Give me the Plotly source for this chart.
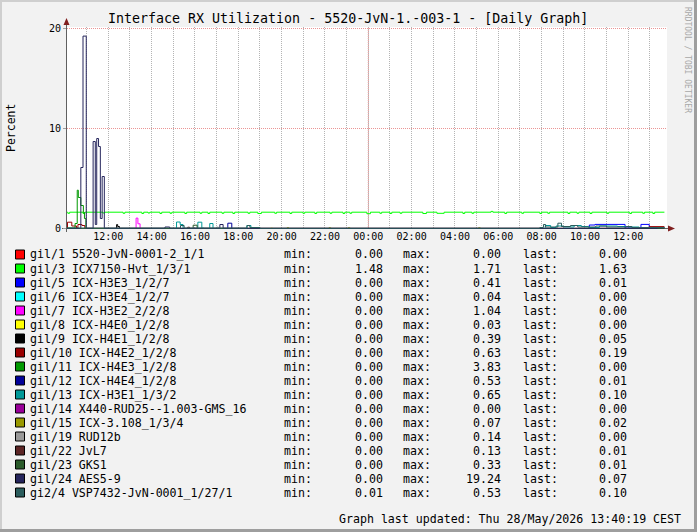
import plotly.graph_objects as go

# ---------------- data ----------------
labels = [
    "gil/1 5520-JvN-0001-2_1/1", "gil/3 ICX7150-Hvt_1/3/1", "gil/5 ICX-H3E3_1/2/7",
    "gil/6 ICX-H3E4_1/2/7", "gil/7 ICX-H3E2_2/2/8", "gil/8 ICX-H4E0_1/2/8",
    "gil/9 ICX-H4E1_1/2/8", "gil/10 ICX-H4E2_1/2/8", "gil/11 ICX-H4E3_1/2/8",
    "gil/12 ICX-H4E4_1/2/8", "gil/13 ICX-H3E1_1/3/2", "gil/14 X440-RUD25--1.003-GMS_16",
    "gil/15 ICX-3.108_1/3/4", "gil/19 RUD12b", "gil/22 JvL7", "gil/23 GKS1",
    "gil/24 AES5-9", "gi2/4 VSP7432-JvN-0001_1/27/1",
]
colors = [
    "#FF0000", "#00FF00", "#0000FF", "#00FFFF", "#FF00FF", "#FFFF00",
    "#000000", "#990000", "#009900", "#000099", "#009999", "#990099",
    "#999900", "#999999", "#5C2525", "#2A5A2A", "#25255C", "#2A5C5C",
]
mins = [0.00, 1.48, 0.00, 0.00, 0.00, 0.00, 0.00, 0.00, 0.00, 0.00, 0.00, 0.00, 0.00, 0.00, 0.00, 0.00, 0.00, 0.01]
maxs = [0.00, 1.71, 0.41, 0.04, 1.04, 0.03, 0.39, 0.63, 3.83, 0.53, 0.65, 0.00, 0.07, 0.14, 0.13, 0.33, 19.24, 0.53]
lasts = [0.00, 1.63, 0.01, 0.00, 0.00, 0.00, 0.05, 0.19, 0.00, 0.01, 0.10, 0.00, 0.02, 0.00, 0.01, 0.01, 0.07, 0.10]

# step change points ("DD HH:MM" in May 2026) and values, per interface
t_gi1_1 = ["27 10:06", "28 13:40"]
v_gi1_1 = [0.0, 0.0]

t_gi1_3 = ["27 10:06", "27 10:08", "27 10:13", "27 10:50", "27 10:55", "27 11:45", "27 11:50",
           "27 12:41", "27 12:46", "27 13:33", "27 13:38", "27 13:50", "27 13:55", "27 14:23",
           "27 14:28", "27 14:51", "27 14:56", "27 15:32", "27 15:37", "27 16:14", "27 16:19",
           "27 16:36", "27 16:41", "27 17:15", "27 17:20", "27 17:45", "27 17:50", "27 18:27",
           "27 18:32", "27 18:54", "27 19:04", "27 19:41", "27 19:46", "27 20:23", "27 20:28",
           "27 20:59", "27 21:04", "27 21:32", "27 21:37", "27 22:14", "27 22:19", "27 22:50",
           "27 22:55", "27 23:09", "27 23:14", "27 23:56", "28 00:06", "28 00:32", "28 00:37",
           "28 01:00", "28 01:05", "28 01:28", "28 01:33", "28 02:31", "28 02:41", "28 03:10",
           "28 03:30", "28 04:22", "28 04:27", "28 04:47", "28 04:52", "28 05:40", "28 05:45",
           "28 06:18", "28 06:23", "28 07:05", "28 07:10", "28 07:55", "28 08:00", "28 08:17",
           "28 08:22", "28 09:13", "28 09:18", "28 09:38", "28 09:43", "28 10:14", "28 10:19",
           "28 11:01", "28 11:06", "28 12:04", "28 12:09", "28 12:40", "28 12:45", "28 13:08",
           "28 13:13", "28 13:40"]
v_gi1_3 = [1.63, 1.52, 1.63, 1.50, 1.63, 1.55, 1.63,
           1.52, 1.63, 1.50, 1.63, 1.55, 1.63, 1.50,
           1.63, 1.52, 1.63, 1.50, 1.63, 1.52, 1.63,
           1.50, 1.63, 1.52, 1.63, 1.50, 1.63, 1.52,
           1.63, 1.50, 1.63, 1.52, 1.63, 1.50, 1.63,
           1.52, 1.63, 1.50, 1.63, 1.52, 1.63, 1.50,
           1.63, 1.52, 1.63, 1.48, 1.63, 1.52, 1.63,
           1.50, 1.63, 1.52, 1.63, 1.50, 1.63, 1.52,
           1.63, 1.50, 1.63, 1.52, 1.63, 1.71, 1.63,
           1.50, 1.63, 1.52, 1.63, 1.50, 1.63, 1.52,
           1.63, 1.50, 1.63, 1.52, 1.63, 1.50, 1.63,
           1.52, 1.63, 1.50, 1.63, 1.52, 1.63, 1.50,
           1.63, 1.63]

t_gi1_5 = ["27 10:06", "28 10:12", "28 10:28", "28 11:51", "28 12:35", "28 12:58", "28 13:40"]
v_gi1_5 = [0.0, 0.35, 0.41, 0.05, 0.41, 0.01, 0.01]

t_gi1_6 = ["27 10:06", "27 16:20", "27 16:25", "28 13:40"]
v_gi1_6 = [0.0, 0.04, 0.0, 0.0]

t_gi1_7 = ["27 10:06", "27 13:17", "27 13:22", "27 13:28", "28 13:40"]
v_gi1_7 = [0.0, 1.04, 0.47, 0.0, 0.0]

t_gi1_8 = ["27 10:06", "27 19:30", "27 19:35", "28 13:40"]
v_gi1_8 = [0.0, 0.03, 0.0, 0.0]

t_gi1_9 = ["27 10:06", "27 12:23", "27 12:26", "27 12:31", "28 13:20", "28 13:40"]
v_gi1_9 = [0.0, 0.39, 0.2, 0.0, 0.05, 0.05]

t_gi1_10 = ["27 10:06", "27 10:07", "27 10:19", "27 10:32", "27 10:36", "27 10:47", "27 10:55",
            "28 12:58", "28 13:40"]
v_gi1_10 = [0.05, 0.63, 0.25, 0.05, 0.4, 0.3, 0.02, 0.19, 0.19]

t_gi1_11 = ["27 10:06", "27 10:28", "27 10:34", "27 10:37", "27 10:44", "27 10:51", "27 10:54",
            "27 10:58", "28 13:40"]
v_gi1_11 = [0.05, 0.5, 3.83, 3.1, 2.3, 1.6, 1.0, 0.0, 0.0]

t_gi1_12 = ["27 10:06", "27 17:31", "27 17:42", "28 13:30", "28 13:40"]
v_gi1_12 = [0.0, 0.53, 0.0, 0.01, 0.01]

t_gi1_13 = ["27 10:06", "27 15:09", "27 15:19", "27 15:27", "27 16:08", "27 16:19", "27 16:41",
            "27 16:50", "27 18:24", "27 18:35", "28 08:10", "28 08:25", "28 08:40", "28 09:00",
            "28 09:30", "28 09:50", "28 10:10", "28 10:40", "28 11:30", "28 12:00", "28 12:30",
            "28 13:00", "28 13:40"]
v_gi1_13 = [0.0, 0.65, 0.4, 0.0, 0.63, 0.0, 0.5,
            0.0, 0.3, 0.0, 0.3, 0.1, 0.25, 0.15,
            0.3, 0.2, 0.1, 0.25, 0.2, 0.15, 0.1,
            0.1, 0.1]

t_gi1_14 = ["27 10:06", "28 13:40"]
v_gi1_14 = [0.0, 0.0]

t_gi1_15 = ["27 10:06", "27 20:15", "27 20:20", "27 22:11", "27 22:16", "27 23:04", "27 23:09",
            "28 05:05", "28 05:10", "28 13:30", "28 13:40"]
v_gi1_15 = [0.0, 0.07, 0.0, 0.07, 0.0, 0.07, 0.0, 0.07, 0.0, 0.02, 0.02]

t_gi1_19 = ["27 10:06", "27 17:00", "27 17:05", "28 13:40"]
v_gi1_19 = [0.0, 0.14, 0.0, 0.0]

t_gi1_22 = ["27 10:06", "27 15:40", "27 15:45", "28 13:30", "28 13:40"]
v_gi1_22 = [0.0, 0.13, 0.0, 0.01, 0.01]

t_gi1_23 = ["27 10:06", "27 15:55", "27 16:06", "28 13:30", "28 13:40"]
v_gi1_23 = [0.0, 0.33, 0.0, 0.01, 0.01]

t_gi1_24 = ["27 10:06", "27 10:44", "27 10:50", "27 10:59", "27 11:18", "27 11:24", "27 11:28",
            "27 11:33", "27 11:38", "27 11:43", "27 11:49", "27 14:37", "27 14:50", "27 17:09",
            "27 17:18", "28 13:20", "28 13:40"]
v_gi1_24 = [0.02, 6.1, 19.24, 0.02, 8.7, 0.4, 9.0,
            8.2, 1.0, 5.2, 0.02, 0.15, 0.02, 0.4,
            0.02, 0.07, 0.07]

t_gi2_4 = ["27 10:06", "27 15:20", "27 15:30", "27 18:24", "27 18:32", "27 19:00", "28 07:55",
           "28 08:05", "28 08:11", "28 08:45", "28 08:55", "28 09:20", "28 09:40", "28 10:30",
           "28 11:00", "28 11:55", "28 12:10", "28 13:40"]
v_gi2_4 = [0.05, 0.3, 0.05, 0.3, 0.1, 0.03, 0.1,
           0.4, 0.15, 0.53, 0.2, 0.3, 0.15, 0.25,
           0.15, 0.2, 0.1, 0.1]

series_t = [t_gi1_1, t_gi1_3, t_gi1_5, t_gi1_6, t_gi1_7, t_gi1_8, t_gi1_9, t_gi1_10, t_gi1_11,
            t_gi1_12, t_gi1_13, t_gi1_14, t_gi1_15, t_gi1_19, t_gi1_22, t_gi1_23, t_gi1_24, t_gi2_4]
series_v = [v_gi1_1, v_gi1_3, v_gi1_5, v_gi1_6, v_gi1_7, v_gi1_8, v_gi1_9, v_gi1_10, v_gi1_11,
            v_gi1_12, v_gi1_13, v_gi1_14, v_gi1_15, v_gi1_19, v_gi1_22, v_gi1_23, v_gi1_24, v_gi2_4]

title = "Interface RX Utilization - 5520-JvN-1.-003-1 - [Daily Graph]"
footer = "Graph last updated: Thu 28/May/2026 13:40:19 CEST"

# ---------------- layout geometry ----------------
W, H = 697, 532
L, R = 67, 667
T, B = 27, 229
MONO = "DejaVu Sans Mono"


def px(x):
    return (x - L) / (R - L)


def py(y):
    return (B - y) / (B - T)


def ts(s):
    return "2026-05-" + s


fig = go.Figure()
for t, v, c in zip(series_t, series_v, colors):
    fig.add_trace(go.Scatter(x=[ts(s) for s in t], y=v, mode="lines",
                             line=dict(color=c, width=1, shape="hv"),
                             hoverinfo="skip", showlegend=False))

GRID = "#B4B4B4"
MGRID = "#EB9595"

shapes = []
# frame shading
shapes.append(dict(type="rect", xref="paper", yref="paper", x0=px(0), x1=px(2), y0=py(532), y1=py(0),
                   fillcolor="#CFCFCF", line_width=0, layer="below"))
shapes.append(dict(type="rect", xref="paper", yref="paper", x0=px(0), x1=px(697), y0=py(2), y1=py(0),
                   fillcolor="#CFCFCF", line_width=0, layer="below"))
shapes.append(dict(type="rect", xref="paper", yref="paper", x0=px(694), x1=px(697), y0=py(532), y1=py(0),
                   fillcolor="#9E9E9E", line_width=0, layer="below"))
shapes.append(dict(type="rect", xref="paper", yref="paper", x0=px(0), x1=px(697), y0=py(532), y1=py(529),
                   fillcolor="#9E9E9E", line_width=0, layer="below"))
# day-boundary major grid line
shapes.append(dict(type="line", xref="x", yref="paper", x0=ts("28 00:00"), x1=ts("28 00:00"),
                   y0=0, y1=1, line=dict(color=MGRID, width=1, dash="1px,1px"), layer="between"))
# axes
shapes.append(dict(type="line", xref="paper", yref="paper", x0=px(62), x1=px(669), y0=py(228.5), y1=py(228.5),
                   line=dict(color="#606060", width=1), layer="between"))
shapes.append(dict(type="line", xref="paper", yref="paper", x0=px(66.5), x1=px(66.5), y0=py(232), y1=py(23),
                   line=dict(color="#606060", width=1), layer="between"))
# arrows
shapes.append(dict(type="path", xref="paper", yref="paper",
                   path=f"M {px(63.5)} {py(25)} L {px(69.5)} {py(25)} L {px(66.5)} {py(18)} Z",
                   fillcolor="#801F1F", line_width=0))
shapes.append(dict(type="path", xref="paper", yref="paper",
                   path=f"M {px(668)} {py(225.5)} L {px(668)} {py(231.5)} L {px(675)} {py(228.5)} Z",
                   fillcolor="#801F1F", line_width=0))

annotations = []
annotations.append(dict(text=title, x=px(348), y=py(19), xref="paper", yref="paper",
                        xanchor="center", yanchor="middle", showarrow=False,
                        font=dict(family=MONO, size=13.3, color="#000")))
annotations.append(dict(text="Percent", x=px(11), y=py(128), xref="paper", yref="paper",
                        xanchor="center", yanchor="middle", showarrow=False, textangle=-90,
                        font=dict(family=MONO, size=11.5, color="#000")))
annotations.append(dict(text="RRDTOOL / TOBI OETIKER", x=px(688), y=py(60), xref="paper", yref="paper",
                        xanchor="center", yanchor="middle", showarrow=False, textangle=90,
                        font=dict(family=MONO, size=8, color="#A8A8A8")))
annotations.append(dict(text=footer, x=px(683), y=py(518.5), xref="paper", yref="paper",
                        xanchor="right", yanchor="middle", showarrow=False,
                        font=dict(family=MONO, size=11.6, color="#000")))

lf = dict(family=MONO, size=11.6, color="#000")
for i, (lab, c, mn, mx, ls) in enumerate(zip(labels, colors, mins, maxs, lasts)):
    yc = 254.5 + 14 * i
    shapes.append(dict(type="rect", xref="paper", yref="paper",
                       x0=px(15.5), x1=px(24.5), y0=py(yc + 4.5), y1=py(yc - 4.5),
                       fillcolor=c, line=dict(color="#000", width=1)))
    for txt, xx, anc in [(lab, 28, "left"), ("min:", 282, "left"), (f"{mn:.2f}", 384.5, "right"),
                         ("max:", 401, "left"), (f"{mx:.2f}", 502.5, "right"),
                         ("last:", 520.5, "left"), (f"{ls:.2f}", 629, "right")]:
        annotations.append(dict(text=txt, x=px(xx), y=py(yc), xref="paper", yref="paper",
                                xanchor=anc, yanchor="middle", showarrow=False, font=lf))

fig.update_layout(
    width=W, height=H,
    margin=dict(l=L, r=W - R, t=T, b=H - B, pad=0),
    paper_bgcolor="#F2F2F2", plot_bgcolor="#FFFFFF",
    showlegend=False,
    shapes=shapes, annotations=annotations,
    xaxis=dict(type="date", range=["2026-05-27 10:05:40", "2026-05-28 13:47:10"],
               tick0="2026-05-27 12:00", dtick=7200000, tickformat="%H:%M",
               showgrid=True, gridcolor=GRID, griddash="1px,1px", gridwidth=1,
               minor=dict(tick0="2026-05-27 11:00", dtick=3600000, showgrid=True,
                          gridcolor=GRID, griddash="1px,1px", gridwidth=1),
               zeroline=False, showline=False, ticks="",
               tickfont=dict(family=MONO, size=10, color="#000")),
    yaxis=dict(range=[-0.05, 20.15], tick0=0, dtick=10,
               showgrid=True, gridcolor=MGRID, griddash="1px,1px", gridwidth=1,
               zeroline=False, showline=False, ticks="outside", ticklen=3, tickcolor="#A0A0A0",
               tickfont=dict(family=MONO, size=10, color="#000")),
)

fig.write_html("out.html")
